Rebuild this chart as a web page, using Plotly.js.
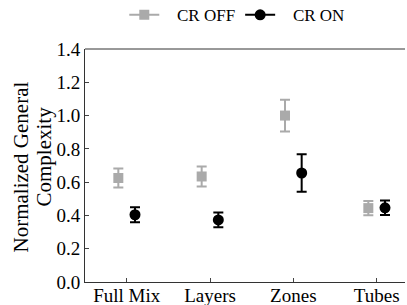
<!DOCTYPE html>
<html><head><meta charset="utf-8">
<script src="https://cdn.plot.ly/plotly-3.0.1.min.js"></script>
<style>html,body{margin:0;padding:0;background:#fff}</style>
</head><body><div id="chart" style="width:407px;height:305px"></div>
<script>
var categories = ["Full Mix", "Layers", "Zones", "Tubes"];
var offValues = [0.625, 0.634, 1.0, 0.444];
var offErrors = [0.057, 0.06, 0.095, 0.043];
var onValues = [0.404, 0.373, 0.655, 0.446];
var onErrors = [0.045, 0.044, 0.112, 0.044];
var seriesNames = ["CR OFF", "CR ON"];
var yTitleLines = ["Normalized General", "Complexity"];
var yTicks = [0, 0.2, 0.4, 0.6, 0.8, 1.0, 1.2, 1.4];

var GREY = "#aaaaaa", BLACK = "#000000";
var FONT = "'Liberation Serif', serif";
var idx = categories.map(function(_, i){ return i; });
var shift = 0.1;
var pad = "\u00a0\u00a0\u00a0";

var traces = [
  {x: idx.map(function(i){return i - shift;}), y: offValues, mode: "markers", type: "scatter",
   marker: {symbol: "square", size: 10, color: GREY},
   error_y: {type: "data", array: offErrors, visible: true, color: GREY, thickness: 2, width: 5},
   showlegend: false, hoverinfo: "skip"},
  {x: idx.map(function(i){return i + shift;}), y: onValues, mode: "markers", type: "scatter",
   marker: {symbol: "circle", size: 11, color: BLACK},
   error_y: {type: "data", array: onErrors, visible: true, color: BLACK, thickness: 2, width: 5},
   showlegend: false, hoverinfo: "skip"},
  {x: [null], y: [null], mode: "lines+markers", type: "scatter", name: pad + seriesNames[0],
   line: {color: GREY, width: 2}, marker: {symbol: "square", size: 10, color: GREY}},
  {x: [null], y: [null], mode: "lines+markers", type: "scatter", name: pad + seriesNames[1],
   line: {color: BLACK, width: 2}, marker: {symbol: "circle", size: 11, color: BLACK}}
];

var layout = {
  width: 407, height: 305,
  margin: {l: 85, r: 2, t: 49, b: 23},
  paper_bgcolor: "#fff", plot_bgcolor: "#fff",
  font: {family: FONT, size: 19, color: "#000"},
  showlegend: true,
  legend: {orientation: "h", xref: "container", yref: "container", x: 0.583, xanchor: "center",
           y: 0.95, yanchor: "middle", font: {family: FONT, size: 17}, itemwidth: 30,
           bgcolor: "rgba(0,0,0,0)"},
  xaxis: {range: [-0.5, 3.34], tickvals: idx, ticktext: categories, ticks: "inside", ticklen: 4,
          showline: true, linecolor: "#333", linewidth: 1, mirror: false, showgrid: false, zeroline: false,
          tickfont: {family: FONT, size: 19}, ticklabelstandoff: -4, fixedrange: true},
  yaxis: {range: [0, 1.4], tickvals: yTicks, ticktext: yTicks.map(function(v){return v.toFixed(1);}),
          ticks: "inside", ticklen: 4, showline: true, linecolor: "#333", linewidth: 1,
          showgrid: false, zeroline: false, tickfont: {family: FONT, size: 19}},
  annotations: [
    {text: yTitleLines[0], xref: "paper", yref: "paper", x: 0, y: 0.5, xanchor: "center", yanchor: "middle",
     xshift: -65, yshift: -2, textangle: -90, showarrow: false, font: {family: FONT, size: 21}, borderpad: 0},
    {text: yTitleLines[1], xref: "paper", yref: "paper", x: 0, y: 0.5, xanchor: "center", yanchor: "middle",
     xshift: -42, yshift: 9, textangle: -90, showarrow: false, font: {family: FONT, size: 21}, borderpad: 0}
  ],
  shapes: [{type: "line", xref: "paper", yref: "paper", x0: 0, x1: 1, y0: 1, y1: 1,
            line: {color: "#333", width: 1}}]
};
Plotly.newPlot("chart", traces, layout, {staticPlot: true, displayModeBar: false});
</script></body></html>
